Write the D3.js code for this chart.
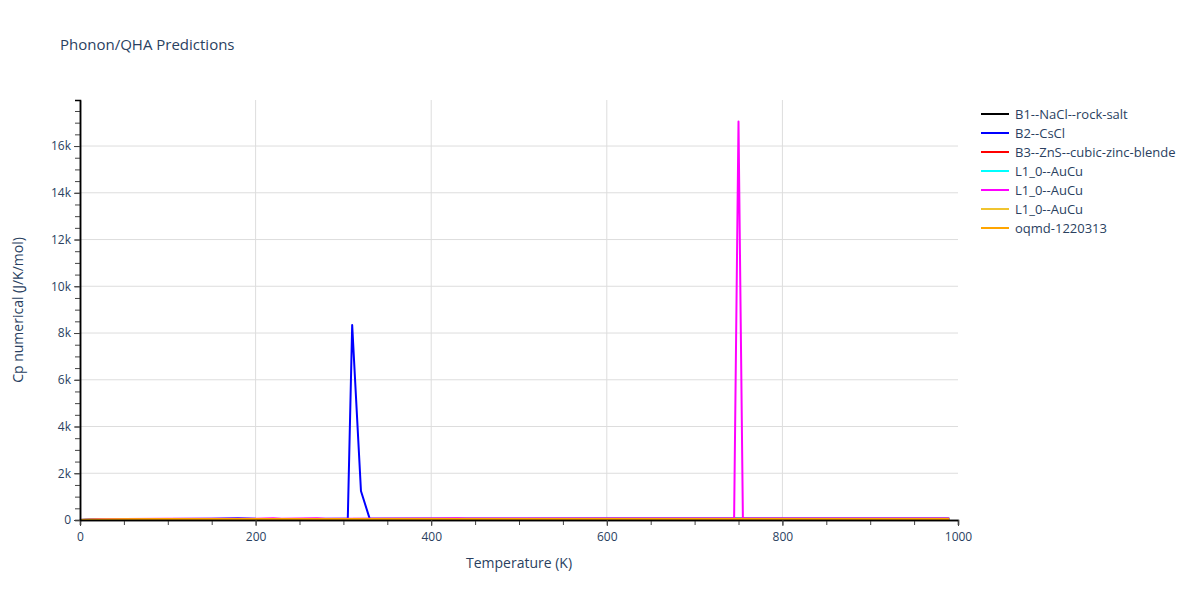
<!DOCTYPE html>
<html>
<head>
<meta charset="utf-8">
<script src="https://cdn.jsdelivr.net/npm/d3@7"></script>
<style>
  body { margin: 0; background: #fff; }
  text { font-family: "Open Sans", Verdana, Arial, sans-serif; }
</style>
</head>
<body>
<div id="chart"></div>
<script>
// ============================================
// DATA
// ============================================

const seriesNames = [
  'B1--NaCl--rock-salt',
  'B2--CsCl',
  'B3--ZnS--cubic-zinc-blende',
  'L1_0--AuCu',
  'L1_0--AuCu',
  'L1_0--AuCu',
  'oqmd-1220313'
];
const seriesColors = ['#000000', '#0000ff', '#ff0000', '#00ffff', '#ff00ff', '#f0c430', '#ffa500'];

// temperatures (K) and Cp (J/K/mol)
const b1Temps = [0, 10, 20, 30, 50, 100, 150, 200, 300, 400, 500, 600, 700, 800, 900, 990];
const b1Cp    = [0, 8, 20, 28, 36, 42, 45, 46, 47, 48, 48, 49, 49, 50, 50, 50];

const b2Temps = [0, 10, 20, 30, 50, 100, 150, 180, 190, 200, 250, 300, 305, 310, 320, 330, 340, 400, 500, 600, 700, 800, 900, 990];
const b2Cp    = [0, 10, 24, 32, 40, 45, 55, 70, 68, 50, 48, 50, 50, 8340, 1240, 50, 49, 50, 50, 51, 51, 52, 52, 52];

const b3Temps = [0, 10, 20, 30, 50, 100, 150, 200, 300, 400, 500, 600, 700, 800, 900, 990];
const b3Cp    = [0, 9, 22, 30, 38, 43, 46, 47, 48, 49, 49, 50, 50, 51, 51, 51];

const cyanTemps = [0, 10, 20, 30, 50, 100, 150, 200, 300, 400, 500, 600, 700, 800, 900, 990];
const cyanCp    = [0, 10, 23, 31, 39, 44, 46, 47, 48, 49, 50, 50, 51, 51, 52, 52];

const magentaTemps = [0, 10, 20, 30, 50, 100, 150, 200, 220, 230, 270, 280, 300, 400, 430, 440, 500, 600, 700, 745, 750, 755, 800, 900, 990];
const magentaCp    = [0, 12, 28, 38, 48, 54, 56, 58, 75, 58, 70, 58, 58, 59, 80, 59, 60, 60, 61, 61, 17050, 61, 62, 62, 62];

const goldTemps = [0, 10, 20, 30, 50, 100, 150, 200, 300, 400, 500, 600, 700, 800, 900, 990];
const goldCp    = [0, 6, 14, 20, 26, 30, 32, 33, 34, 35, 35, 35, 36, 36, 36, 36];

const orangeTemps = [0, 10, 20, 30, 50, 100, 150, 200, 300, 400, 500, 600, 700, 800, 900, 990];
const orangeCp    = [0, 8, 18, 26, 34, 40, 42, 43, 44, 45, 45, 46, 46, 46, 47, 47];

const xTicks = [0, 200, 400, 600, 800, 1000];
const yTicks = [0, 2000, 4000, 6000, 8000, 10000, 12000, 14000, 16000];

const series = [
  [b1Temps, b1Cp], [b2Temps, b2Cp], [b3Temps, b3Cp], [cyanTemps, cyanCp],
  [magentaTemps, magentaCp], [goldTemps, goldCp], [orangeTemps, orangeCp]
].map(([t, c], i) => ({
  name: seriesNames[i],
  color: seriesColors[i],
  points: t.map((d, j) => ({ t: d, cp: c[j] }))
}));

// ============================================
// DIMENSIONS & SCALES
// ============================================

const margin = { top: 100, right: 242, bottom: 80, left: 80 };
const width = 1200 - margin.left - margin.right;
const height = 600 - margin.top - margin.bottom;

const xScale = d3.scaleLinear().domain([0, 1000]).range([0, width]);
const yScale = d3.scaleLinear().domain([0, 17970]).range([height, 0]);

const tickColor = '#2a3f5f';

// ============================================
// SVG SETUP
// ============================================

const root = d3.select('#chart')
  .append('svg')
  .attr('width', 1200)
  .attr('height', 600);

root.append('text')
  .attr('x', 60)
  .attr('y', 50)
  .attr('font-size', 15)
  .attr('fill', tickColor)
  .text('Phonon/QHA Predictions');

const svg = root.append('g')
  .attr('transform', `translate(${margin.left},${margin.top})`);

// Gridlines
svg.append('g')
  .selectAll('line')
  .data(xTicks.filter(d => d > 0 && d < 1000))
  .join('line')
  .attr('x1', d => xScale(d)).attr('x2', d => xScale(d))
  .attr('y1', 0).attr('y2', height)
  .attr('stroke', '#dddddd');

svg.append('g')
  .selectAll('line')
  .data(yTicks.filter(d => d > 0))
  .join('line')
  .attr('x1', 0).attr('x2', width)
  .attr('y1', d => yScale(d)).attr('y2', d => yScale(d))
  .attr('stroke', '#dddddd');

// ============================================
// LINES
// ============================================

const line = d3.line()
  .x(d => xScale(d.t))
  .y(d => yScale(d.cp));

svg.append('g')
  .selectAll('path')
  .data(series)
  .join('path')
  .attr('d', d => line(d.points))
  .attr('fill', 'none')
  .attr('stroke', d => d.color)
  .attr('stroke-width', 2)
  .attr('stroke-linejoin', 'round');

// ============================================
// AXES
// ============================================

const fmtK = d => d === 0 ? '0' : (d / 1000) + 'k';

// minor ticks
const xAxisMinor = svg.append('g')
  .attr('transform', `translate(0,${height})`)
  .call(d3.axisBottom(xScale).tickValues(d3.range(0, 1001, 50)).tickSize(5).tickFormat(''));
const xAxis = svg.append('g')
  .attr('transform', `translate(0,${height})`)
  .call(d3.axisBottom(xScale).tickValues(xTicks).tickFormat(d3.format('d')).tickSize(6).tickPadding(6).tickSizeOuter(0));

const yAxisMinor = svg.append('g')
  .call(d3.axisLeft(yScale).tickValues(d3.range(0, 17600, 500)).tickSize(5).tickFormat(''));
const yAxis = svg.append('g')
  .call(d3.axisLeft(yScale).tickValues(yTicks).tickFormat(fmtK).tickSize(6).tickPadding(3).tickSizeOuter(0));

[xAxisMinor, xAxis, yAxisMinor, yAxis].forEach(g => {
  g.select('.domain').attr('stroke', '#000').attr('stroke-width', 1.5);
  g.selectAll('.tick line').attr('stroke', '#444');
  g.selectAll('.tick text')
    .attr('fill', tickColor)
    .attr('font-size', 12)
    .attr('font-family', '"Open Sans", Verdana, Arial, sans-serif');
});

// Axis titles
svg.append('text')
  .attr('x', width / 2)
  .attr('y', height + 48)
  .attr('text-anchor', 'middle')
  .attr('font-size', 14)
  .attr('fill', tickColor)
  .text('Temperature (K)');

svg.append('text')
  .attr('transform', 'rotate(-90)')
  .attr('x', -height / 2)
  .attr('y', -57)
  .attr('text-anchor', 'middle')
  .attr('font-size', 14)
  .attr('fill', tickColor)
  .text('Cp numerical (J/K/mol)');

// ============================================
// LEGEND
// ============================================

const legend = root.append('g')
  .attr('transform', 'translate(981,114)');

const items = legend.selectAll('g')
  .data(series)
  .join('g')
  .attr('transform', (d, i) => `translate(0,${i * 19})`);

items.append('line')
  .attr('x1', 0).attr('x2', 28)
  .attr('stroke', d => d.color)
  .attr('stroke-width', 2);

items.append('text')
  .attr('x', 34)
  .attr('y', 4.5)
  .attr('font-size', 13)
  .attr('fill', tickColor)
  .text(d => d.name);
</script>
</body>
</html>
